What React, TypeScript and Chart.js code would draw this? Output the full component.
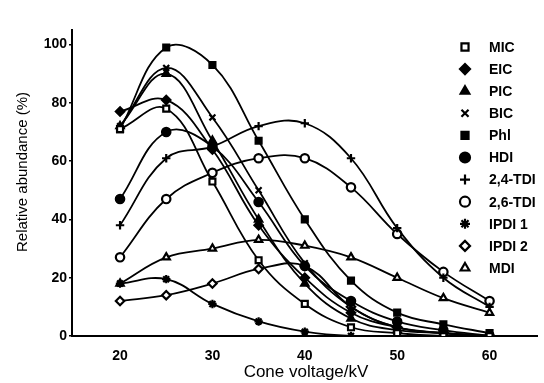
import React, { useEffect, useRef } from "react";
import { Chart, registerables } from "chart.js";
import { drawPoint } from "chart.js/helpers";

Chart.register(...registerables);

const voltages = [20, 25, 30, 35, 40, 45, 50, 55, 60];
const xTicks = [20, 30, 40, 50, 60];
const yTicks = [0, 20, 40, 60, 80, 100];

const micValues = [71, 78, 53, 26, 11, 3, 1, 0, 0];
const eicValues = [77, 81, 64, 38, 20, 8, 3, 1, 0];
const picValues = [72, 90, 67, 40, 18, 6, 2, 1, 0];
const bicValues = [72, 92, 75, 50, 25, 10, 3, 1, 0];
const phlValues = [71, 99, 93, 67, 40, 19, 8, 4, 1];
const hdiValues = [47, 70, 65, 46, 24, 12, 5, 2, 0];
const tdi24Values = [38, 61, 65, 72, 73, 61, 37, 20, 10];
const tdi26Values = [27, 47, 56, 61, 61, 51, 35, 22, 12];
const ipdi1Values = [18, 19.5, 11, 5, 1.5, 0, 0, 0, 0];
const ipdi2Values = [12, 14, 18, 23, 24, 10, 3, 1, 0];
const mdiValues = [18, 27, 30, 33, 31, 27, 20, 13, 8];

const seriesNames = ["MIC", "EIC", "PIC", "BIC", "Phl", "HDI", "2,4-TDI", "2,6-TDI", "IPDI 1", "IPDI 2", "MDI"];
const seriesValues = [micValues, eicValues, picValues, bicValues, phlValues, hdiValues, tdi24Values, tdi26Values, ipdi1Values, ipdi2Values, mdiValues];
const seriesStyles = [
  { pointStyle: "rect", filled: false },
  { pointStyle: "rectRot", filled: true },
  { pointStyle: "triangle", filled: true },
  { pointStyle: "crossRot", filled: false },
  { pointStyle: "rect", filled: true },
  { pointStyle: "circle", filled: true },
  { pointStyle: "cross", filled: false },
  { pointStyle: "circle", filled: false },
  { pointStyle: "star", filled: false },
  { pointStyle: "rectRot", filled: false },
  { pointStyle: "triangle", filled: false },
];

const FONT = "'Liberation Sans', Arial, sans-serif";

const overlayPlugin = {
  id: "overlay",
  afterDraw(chart: any) {
    const ctx = chart.ctx;
    ctx.save();
    ctx.fillStyle = "#000";
    ctx.font = `17px ${FONT}`;
    ctx.textAlign = "center";
    ctx.textBaseline = "middle";
    ctx.fillText("Cone voltage/kV", 306, 372);
    ctx.font = `15px ${FONT}`;
    ctx.save();
    ctx.translate(23, 172);
    ctx.rotate(-Math.PI / 2);
    ctx.fillText("Relative abundance (%)", 0, 0);
    ctx.restore();
    const lx = 465;
    const tx = 489;
    const y0 = 47;
    const dy = 22.1;
    ctx.font = `bold 14px ${FONT}`;
    ctx.textAlign = "left";
    seriesNames.forEach((name, i) => {
      const st = seriesStyles[i];
      const y = y0 + i * dy;
      ctx.strokeStyle = "#000";
      ctx.fillStyle = st.filled ? "#000" : "#fff";
      ctx.lineWidth = 2.2;
      drawPoint(ctx, { pointStyle: st.pointStyle, radius: 5, borderWidth: 2.2, rotation: 0 }, lx, y);
      ctx.fillStyle = "#000";
      ctx.fillText(name, tx, y + 1);
    });
    ctx.restore();
  },
};

export default function App() {
  const ref = useRef<HTMLCanvasElement | null>(null);
  useEffect(() => {
    document.body.style.margin = "0";
    document.body.style.background = "#fff";
    const datasets = seriesNames.map((name, i) => ({
      label: name,
      data: voltages.map((v, j) => ({ x: v, y: seriesValues[i][j] })),
      borderColor: "#000",
      borderWidth: 1.8,
      backgroundColor: seriesStyles[i].filled ? "#000" : "#fff",
      pointBackgroundColor: seriesStyles[i].filled ? "#000" : "#fff",
      pointBorderColor: "#000",
      pointBorderWidth: 2.2,
      pointStyle: seriesStyles[i].pointStyle,
      pointRadius: 4.2,
      tension: 0.4,
      fill: false,
    }));
    const chart = new Chart(ref.current as HTMLCanvasElement, {
      type: "line",
      data: { datasets },
      plugins: [overlayPlugin],
      options: {
        animation: false,
        responsive: false,
        maintainAspectRatio: false,
        layout: { padding: { top: 30, right: 4, left: 0, bottom: 0 } },
        plugins: { legend: { display: false }, tooltip: { enabled: false } },
        scales: {
          x: {
            type: "linear",
            min: 14.8,
            max: 65.2,
            afterBuildTicks: (scale: any) => {
              scale.ticks = xTicks.map((v) => ({ value: v }));
            },
            afterFit: (scale: any) => {
              scale.height = 47;
            },
            grid: { display: false },
            border: { display: true, color: "#000", width: 2 },
            ticks: {
              color: "#000",
              font: { family: FONT, size: 14, weight: "bold" },
              padding: 4,
              maxRotation: 0,
            },
          },
          y: {
            type: "linear",
            min: 0,
            max: 105,
            afterBuildTicks: (scale: any) => {
              scale.ticks = yTicks.map((v) => ({ value: v }));
            },
            afterFit: (scale: any) => {
              scale.width = 72;
            },
            grid: { display: true, drawOnChartArea: false, drawTicks: true, tickLength: 3, color: "#000", lineWidth: 1.5 },
            border: { display: true, color: "#000", width: 2 },
            ticks: {
              color: "#000",
              font: { family: FONT, size: 14, weight: "bold" },
              padding: 2,
            },
          },
        },
      },
    } as any);
    return () => chart.destroy();
  }, []);
  return (
    <div style={{ width: 544, height: 383, background: "#fff" }}>
      <canvas ref={ref} width={544} height={383} style={{ display: "block" }} />
    </div>
  );
}
